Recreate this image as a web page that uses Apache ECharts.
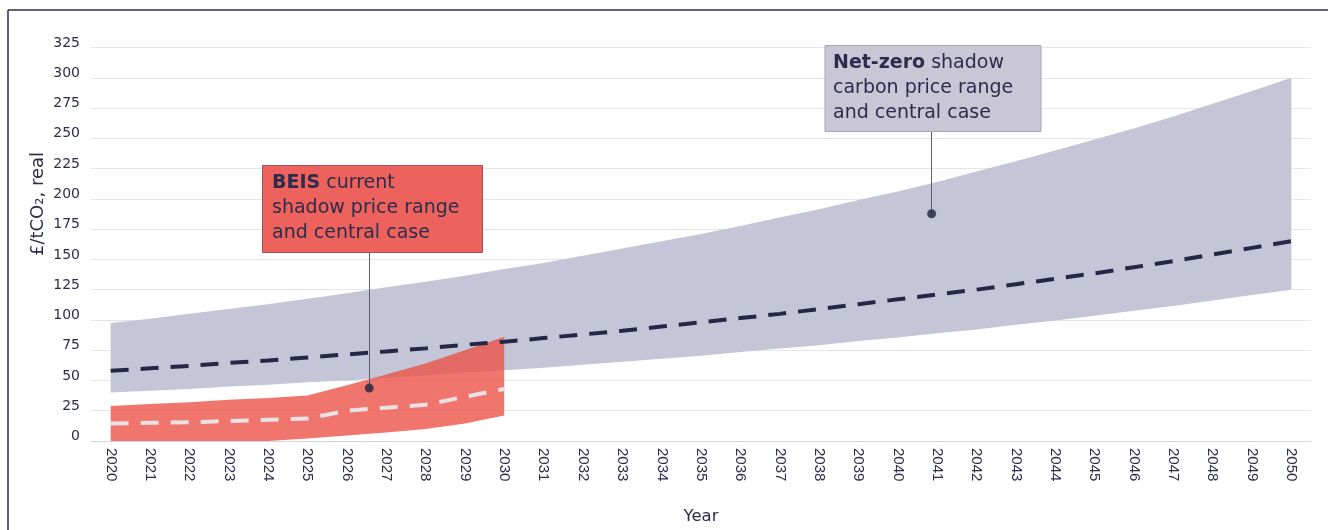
<!DOCTYPE html>
<html>
<head>
<meta charset="utf-8">
<script src="https://cdn.jsdelivr.net/npm/echarts@6/dist/echarts.min.js"></script>
<style>
  html, body { margin: 0; padding: 0; background: #fff; }
  #chart { width: 1328px; height: 530px; }
</style>
</head>
<body>
<div id="chart"></div>
<script>
// years on the x axis
const years = []
for (let y = 2020; y <= 2050; y++) years.push(String(y))

// Net-zero shadow carbon price: range and central case (£/tCO2, real)
const netZeroUpper = [97.5, 101, 105, 109, 113, 117.5, 122, 127, 131.5, 136.5, 142,
  147, 153, 159, 165, 171, 177.5, 184.5, 191.5, 199, 206,
  214, 222.5, 231, 240, 249, 258, 268, 278.5, 289, 300]
const netZeroLower = [40, 41.5, 43, 45, 46.5, 48.5, 50, 52, 54, 56.5, 58.5,
  60.5, 63, 65.5, 68, 70.5, 73.5, 76.5, 79, 82.5, 85.5,
  89, 92, 96, 99.5, 103.5, 107.5, 111.5, 116, 120.5, 125]
const netZeroCentral = [58, 60, 62, 64.5, 66.5, 69, 71.5, 74, 76.5, 79.5, 82,
  85, 88, 91, 94.5, 98, 101.5, 105, 109, 113, 117,
  121, 125, 129.5, 134, 138.5, 143.5, 148.5, 154, 159.5, 165]

// BEIS current shadow price range and central case, 2020-2030
const beisUpper = [29, 30.5, 32, 34, 35.5, 37.5, 46, 55, 64, 75, 86]
const beisLower = [0, 0, 0, 0, 0, 2, 4.5, 7, 10, 14.5, 21]
const beisCentral = [14.5, 15, 15.5, 16.5, 17.5, 18.5, 25, 27.5, 30, 36.5, 43]

// callout anchor points [year, value]
const calloutDots = [[2026.57, 43.7], [2040.86, 187.7]]

const textColor = '#2c2c4c'
const font = 'DejaVu Sans'
const chart = echarts.init(document.getElementById('chart'))

const diff = (hi, lo) => hi.map((v, i) => +(v - lo[i]).toFixed(2))

const calloutText = (x, y, text) => ({
  type: 'text', z: 6, x: x, y: y,
  style: {
    text: text, fill: textColor, fontSize: 19, fontFamily: font, lineHeight: 25,
    rich: { b: { fontWeight: 'bold', fontSize: 19, fontFamily: font, fill: textColor, lineHeight: 25 } },
  },
})

chart.setOption({
  animation: false,
  backgroundColor: '#ffffff',
  textStyle: { fontFamily: font },
  grid: { left: 91, right: 17, top: 47.5, bottom: 86, containLabel: false },
  xAxis: [
    {
      type: 'category',
      data: years,
      boundaryGap: true,
      name: 'Year',
      nameLocation: 'middle',
      nameGap: 67,
      nameTextStyle: { color: textColor, fontSize: 16.5, fontFamily: font },
      axisLine: { lineStyle: { color: '#d6d6dc' } },
      axisTick: { show: false },
      axisLabel: { rotate: -90, color: textColor, fontSize: 15, margin: 7, fontFamily: 'Liberation Sans' },
      splitLine: { show: false },
    },
    {
      type: 'value',
      min: 2019.5,
      max: 2050.5,
      show: false,
    },
  ],
  yAxis: {
    type: 'value',
    min: 0,
    max: 325,
    interval: 25,
    axisLine: { show: false },
    axisTick: { show: false },
    axisLabel: { color: textColor, fontSize: 14, margin: 11, verticalAlign: 'bottom', lineHeight: 9, fontFamily: font },
    splitLine: { lineStyle: { color: '#e4e4ea', width: 1 } },
  },
  series: [
    {
      name: 'nzLow', type: 'line', stack: 'nz', data: netZeroLower,
      symbol: 'none', lineStyle: { opacity: 0 }, silent: true,
    },
    {
      name: 'nzBand', type: 'line', stack: 'nz', data: diff(netZeroUpper, netZeroLower),
      symbol: 'none', lineStyle: { opacity: 0 }, silent: true,
      areaStyle: { color: '#c4c5d6', opacity: 1 },
    },
    {
      name: 'nzCentral', type: 'line', data: netZeroCentral,
      symbol: 'none', silent: true,
      lineStyle: { color: '#262746', width: 4, type: [18, 12] },
    },
    {
      name: 'beisLow', type: 'line', stack: 'beis', data: beisLower,
      symbol: 'none', lineStyle: { opacity: 0 }, silent: true,
    },
    {
      name: 'beisBand', type: 'line', stack: 'beis', data: diff(beisUpper, beisLower),
      symbol: 'none', lineStyle: { opacity: 0 }, silent: true,
      areaStyle: { color: 'rgba(236, 84, 72, 0.8)', opacity: 1 },
    },
    {
      name: 'beisCentral', type: 'line', data: beisCentral,
      symbol: 'none', silent: true,
      lineStyle: { color: '#e8e2e6', width: 4, type: [18, 12] },
    },
    {
      name: 'dots', type: 'scatter', xAxisIndex: 1, data: calloutDots,
      symbolSize: 9, itemStyle: { color: '#23243f' }, silent: true, z: 10,
    },
  ],
  graphic: [
    // frame
    { type: 'line', shape: { x1: 8, y1: 10, x2: 1328, y2: 10 }, style: { stroke: '#2b2d55', lineWidth: 1.5 } },
    { type: 'line', shape: { x1: 8, y1: 10, x2: 8, y2: 530 }, style: { stroke: '#2b2d55', lineWidth: 1.5 } },
    // y axis title
    {
      type: 'text', x: 38, y: 204, rotation: Math.PI / 2,
      style: { text: '£/tCO₂, real', fill: textColor, fontSize: 18, fontFamily: font, align: 'center', verticalAlign: 'middle' },
    },
    // BEIS callout
    { type: 'line', z: 5, shape: { x1: 369.5, y1: 252, x2: 369.5, y2: 391 }, style: { stroke: '#5e5e78', lineWidth: 1 } },
    { type: 'rect', z: 5, shape: { x: 262.5, y: 165.5, width: 220, height: 87 }, style: { fill: '#ee625d', stroke: '#a24e5c', lineWidth: 1 } },
    calloutText(272, 171, '{b|BEIS} current\nshadow price range\nand central case'),
    // Net-zero callout
    { type: 'line', z: 5, shape: { x1: 931.5, y1: 132, x2: 931.5, y2: 215 }, style: { stroke: '#5e5e78', lineWidth: 1 } },
    { type: 'rect', z: 5, shape: { x: 825, y: 45.5, width: 216, height: 86 }, style: { fill: '#c9c6d6', stroke: '#a8a6b8', lineWidth: 1 } },
    calloutText(833, 51, '{b|Net-zero} shadow\ncarbon price range\nand central case'),
  ],
})
</script>
</body>
</html>
